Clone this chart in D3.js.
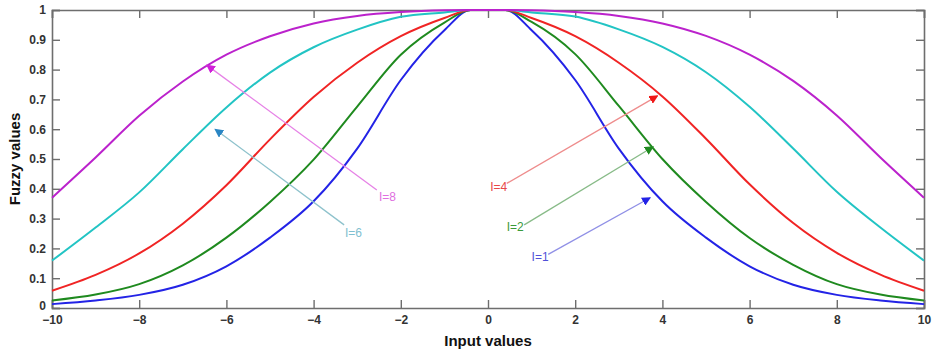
<!DOCTYPE html>
<html>
<head>
<meta charset="utf-8">
<script src="https://cdn.jsdelivr.net/npm/d3@7"></script>
<style>
  body { margin: 0; background: #fff; }
  svg { display: block; font-family: "Liberation Sans", Arial, sans-serif; }
</style>
</head>
<body>
<div id="chart"></div>
<script>
// sample points along x (flat top between -0.4 and 0.4)
var xs = [-10, -9, -8, -7, -6, -5, -4, -3, -2, -1, -0.4, 0.4, 1, 2, 3, 4, 5, 6, 7, 8, 9, 10];

// fuzzy values, one array per I
var valsI1 = [0.013, 0.025, 0.044, 0.078, 0.140, 0.236, 0.358, 0.535, 0.765, 0.932, 1, 1, 0.932, 0.765, 0.535, 0.358, 0.236, 0.140, 0.078, 0.044, 0.025, 0.013];
var valsI2 = [0.025, 0.045, 0.080, 0.143, 0.236, 0.356, 0.498, 0.676, 0.850, 0.958, 1, 1, 0.960, 0.852, 0.678, 0.500, 0.356, 0.235, 0.145, 0.080, 0.045, 0.025];
var valsI4 = [0.058, 0.111, 0.183, 0.283, 0.412, 0.566, 0.708, 0.823, 0.912, 0.973, 1, 1, 0.973, 0.912, 0.823, 0.710, 0.568, 0.415, 0.285, 0.185, 0.112, 0.058];
var valsI6 = [0.159, 0.270, 0.388, 0.533, 0.673, 0.790, 0.875, 0.934, 0.977, 0.992, 1, 1, 0.992, 0.978, 0.935, 0.876, 0.791, 0.675, 0.535, 0.390, 0.270, 0.159];
var valsI8 = [0.370, 0.505, 0.645, 0.760, 0.850, 0.912, 0.955, 0.980, 0.993, 0.999, 1, 1, 0.999, 0.993, 0.980, 0.955, 0.913, 0.850, 0.762, 0.646, 0.505, 0.370];

var series = [
  {name: "I=1", values: valsI1, color: "#2323e6"},
  {name: "I=2", values: valsI2, color: "#1f8a1f"},
  {name: "I=4", values: valsI4, color: "#f02424"},
  {name: "I=6", values: valsI6, color: "#22c4c4"},
  {name: "I=8", values: valsI8, color: "#bb22cc"}
];

// annotation arrows: label position, arrow tail, arrow tip (data units)
var notes = [
  {text: "I=8", tx: -2.5, ty: 0.372, x0: -2.55, y0: 0.396, x1: -6.45, y1: 0.815, line: "#e682e6", head: "#d020d8", font: "#e070e0"},
  {text: "I=6", tx: -3.28, ty: 0.252, x0: -3.30, y0: 0.279, x1: -6.26, y1: 0.600, line: "#8ec2cc", head: "#2a86c4", font: "#7fc0d0"},
  {text: "I=4", tx: 0.05, ty: 0.406, x0: 0.43, y0: 0.418, x1: 3.89, y1: 0.712, line: "#ee8c8c", head: "#f01818", font: "#e84848"},
  {text: "I=2", tx: 0.43, ty: 0.273, x0: 0.83, y0: 0.279, x1: 3.79, y1: 0.541, line: "#88bb88", head: "#1f8a1f", font: "#3a9a3a"},
  {text: "I=1", tx: 1.0, ty: 0.172, x0: 1.38, y0: 0.180, x1: 3.72, y1: 0.370, line: "#9090e6", head: "#2323e6", font: "#5050d8"}
];

var xTicks = [-10, -8, -6, -4, -2, 0, 2, 4, 6, 8, 10];
var yTicks = [0, 0.1, 0.2, 0.3, 0.4, 0.5, 0.6, 0.7, 0.8, 0.9, 1];

var margin = {top: 10, right: 10, bottom: 46, left: 52},
    width = 934 - margin.left - margin.right,
    height = 354 - margin.top - margin.bottom;

var svg = d3.select("#chart")
  .append("svg")
    .attr("width", width + margin.left + margin.right)
    .attr("height", height + margin.top + margin.bottom);

var defs = svg.append("defs");
notes.forEach(function(n, i) {
  defs.append("marker")
      .attr("id", "head" + i)
      .attr("viewBox", "0 0 10 10")
      .attr("refX", 9).attr("refY", 5)
      .attr("markerWidth", 9).attr("markerHeight", 9)
      .attr("markerUnits", "userSpaceOnUse")
      .attr("orient", "auto")
    .append("path")
      .attr("d", "M0,0 L10,5 L0,10 z")
      .attr("fill", n.head);
});

var g = svg.append("g")
  .attr("transform", "translate(" + margin.left + "," + margin.top + ")");

var x = d3.scaleLinear().domain([-10, 10]).range([0, width]);
var y = d3.scaleLinear().domain([0, 1]).range([height, 0]);

var axisColor = "#6e6e6e";
var tickLen = 8;

// axes with inward ticks on all four sides
var axB = g.append("g").attr("transform", "translate(0," + height + ")")
  .call(d3.axisBottom(x).tickValues(xTicks).tickSize(-tickLen).tickPadding(7).tickFormat(d3.format("d")));
var axT = g.append("g")
  .call(d3.axisTop(x).tickValues(xTicks).tickSize(-tickLen).tickFormat(""));
var axL = g.append("g")
  .call(d3.axisLeft(y).tickValues(yTicks).tickSize(-tickLen).tickPadding(6).tickFormat(function(d) { return d === 0 || d === 1 ? d : d3.format(".1f")(d); }));
var axR = g.append("g").attr("transform", "translate(" + width + ",0)")
  .call(d3.axisRight(y).tickValues(yTicks).tickSize(-tickLen).tickFormat(""));

[axB, axT, axL, axR].forEach(function(a) {
  a.selectAll(".domain").attr("stroke", axisColor).attr("stroke-width", 1.6);
  a.selectAll(".tick line").attr("stroke", axisColor).attr("stroke-width", 1.4);
  a.selectAll(".tick text").attr("fill", "#333").style("font-size", "12px").style("font-weight", "bold");
});

// lift the 0 label a little so it clears the -10 below it
axL.selectAll(".tick text").filter(function(d) { return d === 0; }).attr("dy", "0.1em");

var line = d3.line()
  .x(function(d, i) { return x(xs[i]); })
  .y(function(d) { return y(d); })
  .curve(d3.curveMonotoneX);

g.selectAll(".curve")
  .data(series)
  .enter()
  .append("path")
    .attr("class", "curve")
    .attr("fill", "none")
    .attr("stroke", function(d) { return d.color; })
    .attr("stroke-width", 2)
    .attr("d", function(d) { return line(d.values); });

// arrows and labels
notes.forEach(function(n, i) {
  g.append("line")
    .attr("x1", x(n.x0)).attr("y1", y(n.y0))
    .attr("x2", x(n.x1)).attr("y2", y(n.y1))
    .attr("stroke", n.line)
    .attr("stroke-width", 1.3)
    .attr("marker-end", "url(#head" + i + ")");
  g.append("text")
    .attr("x", x(n.tx)).attr("y", y(n.ty))
    .attr("dy", "0.35em")
    .attr("fill", n.font)
    .style("font-size", "12px")
    .text(n.text);
});

// axis titles
svg.append("text")
  .attr("x", margin.left + x(0))
  .attr("y", 346)
  .attr("text-anchor", "middle")
  .style("font-size", "15px")
  .style("font-weight", "bold")
  .attr("fill", "#111")
  .text("Input values");

svg.append("text")
  .attr("transform", "translate(20," + (margin.top + y(0.5)) + ") rotate(-90)")
  .attr("text-anchor", "middle")
  .style("font-size", "15px")
  .style("font-weight", "bold")
  .attr("fill", "#111")
  .text("Fuzzy values");
</script>
</body>
</html>
